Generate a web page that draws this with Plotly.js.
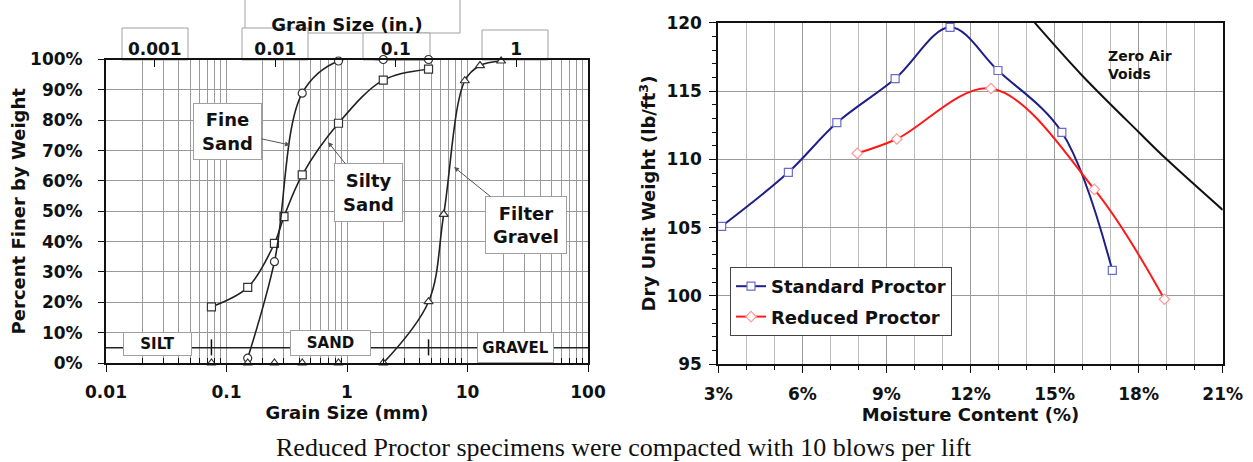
<!DOCTYPE html>
<html><head><meta charset="utf-8">
<script src="https://cdn.plot.ly/plotly-3.0.1.min.js"></script>
<style>html,body{margin:0;padding:0;background:#fff}#chart{width:1253px;height:462px}</style>
</head><body><div id="chart"></div>
<script>
// ---------- Left chart: grain size distribution ----------
const fineSandSizes  = [0.15, 0.25, 0.425, 0.85, 2.0, 4.75];
const fineSandPct    = [1.6, 33.4, 88.9, 99.5, 100, 100];
const siltySandSizes = [0.075, 0.15, 0.25, 0.3, 0.425, 0.85, 2.0, 4.75];
const siltySandPct   = [18.5, 24.9, 39.4, 48.2, 62.0, 79.0, 93.2, 96.8];
const gravelSizes    = [0.075, 0.15, 0.25, 0.425, 0.85, 2.0, 4.75, 6.35, 9.5, 12.7, 19.0];
const gravelPct      = [0, 0, 0, 0, 0, 0, 20.2, 49.0, 93.0, 98.0, 99.5];
const boundarySizes  = [0.075, 4.75];           // silt/sand and sand/gravel limits (mm)
const mmTickVals     = [0.01, 0.1, 1, 10, 100];
const mmTickText     = ['0.01', '0.1', '1', '10', '100'];
const inchTickVals   = [0.001, 0.01, 0.1, 1];
const inchTickText   = ['0.001', '0.01', '0.1', '1'];
const MM_PER_INCH = 25.4;

// ---------- Right chart: compaction curves ----------
const stdMoisture = [3.12, 5.5, 7.23, 9.31, 11.27, 12.98, 15.26, 17.06];
const stdDensity  = [105.1, 109.05, 112.68, 115.9, 119.66, 116.5, 111.98, 101.88];
const redMoisture = [7.96, 9.37, 12.73, 16.42, 18.92];
const redDensity  = [110.44, 111.49, 115.18, 107.8, 99.76];
const zavMoisture = [14.29, 16.0, 18.0, 19.0, 21.0];
const zavDensity  = [120.0, 116.1, 112.0, 110.0, 106.3];

const W = 1253, H = 462;
const px = v => v / W, py = v => 1 - v / H;

// minor log tick positions (2..9 in each decade)
const minorLog = [];
for (let e = -2; e < 2; e++) for (let m = 2; m <= 9; m++) minorLog.push(m * Math.pow(10, e));

const lineDark = '#222';
const mk = (sym) => ({symbol: sym, size: 8, color: 'white', line: {color: '#333', width: 1.2}});
const firstRise = gravelPct.findIndex(v => v > 0) - 1;

const traces = [
  {x: siltySandSizes, y: siltySandPct, mode: 'lines+markers', line: {color: lineDark, width: 1.6, shape: 'spline'},
   marker: mk('square'), cliponaxis: false, showlegend: false},
  {x: fineSandSizes, y: fineSandPct, mode: 'lines+markers', line: {color: lineDark, width: 1.6, shape: 'spline'},
   marker: mk('circle'), cliponaxis: false, showlegend: false},
  {x: gravelSizes.slice(firstRise), y: gravelPct.slice(firstRise), mode: 'lines+markers',
   line: {color: lineDark, width: 1.6, shape: 'spline'}, marker: mk('triangle-up'), cliponaxis: false, showlegend: false},
  {x: gravelSizes.slice(0, firstRise), y: gravelPct.slice(0, firstRise), mode: 'markers',
   marker: mk('triangle-up'), cliponaxis: false, showlegend: false},
  {x: [boundarySizes[0], boundarySizes[0], null, boundarySizes[1], boundarySizes[1]], y: [2.5, 7.8, null, 2.5, 7.8],
   mode: 'lines', line: {color: '#111', width: 1.5}, showlegend: false, hoverinfo: 'skip'},
  {x: inchTickVals, y: inchTickVals.map(() => null), xaxis: 'x3', yaxis: 'y', mode: 'markers', showlegend: false, hoverinfo: 'skip'},
  // right chart
  {x: stdMoisture, y: stdDensity, xaxis: 'x2', yaxis: 'y2', name: 'Standard Proctor', mode: 'lines+markers',
   line: {color: '#1f1f8a', width: 2, shape: 'spline'}, legendgroup: 'a',
   marker: {symbol: 'square', size: 8, color: 'white', line: {color: '#6a6acc', width: 1.2}}},
  {x: redMoisture, y: redDensity, xaxis: 'x2', yaxis: 'y2', name: 'Reduced Proctor', mode: 'lines+markers',
   line: {color: '#ff1a1a', width: 2, shape: 'spline'}, legendgroup: 'b',
   marker: {symbol: 'diamond', size: 8, color: 'white', line: {color: '#ff9a9a', width: 1.2}}},
  {x: zavMoisture, y: zavDensity, xaxis: 'x2', yaxis: 'y2', name: 'Zero Air Voids', mode: 'lines',
   line: {color: '#111', width: 2, shape: 'spline'}, showlegend: false}
];

const gridC = '#9a9a9a';
const tickFont = {family: 'DejaVu Sans', size: 17, weight: 'bold', color: '#111'};
const titleFont = {family: 'DejaVu Sans', size: 18, weight: 'bold', color: '#111'};

const box = (x0, y0, x1, y1) => ({type: 'rect', xref: 'paper', yref: 'paper', layer: 'below',
  x0: px(x0), x1: px(x1), y0: py(y1), y1: py(y0), line: {color: '#a0a0a0', width: 1}, fillcolor: 'white'});

const label = (text, cx, cy, w, h, size) => ({text, xref: 'paper', yref: 'paper', x: px(cx), y: py(cy),
  xanchor: 'center', yanchor: 'middle', showarrow: false, width: w, height: h, bgcolor: 'white',
  bordercolor: '#a0a0a0', borderwidth: 1, borderpad: 0, font: {family: 'DejaVu Sans', size: size, weight: 'bold', color: '#111'}});

const arrowLabel = (text, tipX, tipY, cx, cy, w, h) => ({text, xref: 'paper', yref: 'paper', x: px(tipX), y: py(tipY),
  ax: cx - tipX, ay: cy - tipY, showarrow: true, arrowhead: 2, arrowsize: 1, arrowwidth: 1, arrowcolor: '#555',
  width: w, height: h, bgcolor: 'white', bordercolor: '#a0a0a0', borderwidth: 1, borderpad: 0,
  font: {family: 'DejaVu Sans', size: 18, weight: 'bold', color: '#111'}});

const layout = {
  width: W, height: H, margin: {l: 0, r: 0, t: 0, b: 0},
  paper_bgcolor: 'white', plot_bgcolor: 'white',
  font: {family: 'DejaVu Sans', size: 17, weight: 'bold', color: '#111'},
  xaxis: {type: 'log', domain: [px(106), px(588)], anchor: 'y', range: [-2, 2],
    tickmode: 'array', tickvals: mmTickVals, ticktext: mmTickText, tickfont: tickFont,
    ticks: 'outside', ticklen: 7, tickcolor: '#111', ticklabelstandoff: 6,
    showgrid: true, gridcolor: gridC, gridwidth: 1,
    minor: {tickmode: 'array', tickvals: minorLog, ticks: 'inside', ticklen: 5, tickcolor: '#111', showgrid: true, gridcolor: gridC, gridwidth: 1},
    showline: true, linecolor: '#111', linewidth: 2, mirror: true, zeroline: false,
    title: {text: 'Grain Size (mm)', font: titleFont, standoff: 4}},
  xaxis3: {type: 'log', overlaying: 'x', side: 'top', anchor: 'y',
    range: [Math.log10(0.01 / MM_PER_INCH), Math.log10(100 / MM_PER_INCH)],
    tickmode: 'array', tickvals: inchTickVals, ticktext: inchTickText, tickfont: tickFont,
    ticks: 'inside', ticklen: 7, tickcolor: '#111', showgrid: false, showline: false, zeroline: false,
    title: {text: 'Grain Size (in.)', font: titleFont, standoff: 2}},
  yaxis: {domain: [py(363), py(59.5)], anchor: 'x', range: [0, 100], tickmode: 'linear', tick0: 0, dtick: 10,
    ticksuffix: '%', tickfont: tickFont, ticks: 'outside', ticklen: 6, tickcolor: '#111', ticklabelstandoff: 12,
    showgrid: true, gridcolor: gridC, showline: true, linecolor: '#111', linewidth: 2, mirror: true, zeroline: false,
    title: {text: 'Percent Finer by Weight', font: titleFont, standoff: 0}},
  xaxis2: {domain: [px(718.3), px(1222.7)], anchor: 'y2', range: [3, 21], tickmode: 'linear', tick0: 3, dtick: 3,
    ticksuffix: '%', tickfont: tickFont, ticks: 'outside', ticklen: 7, tickcolor: '#111', ticklabelstandoff: 6,
    showgrid: true, gridcolor: gridC,
    minor: {dtick: 1, tick0: 3, ticks: 'outside', ticklen: 4, tickcolor: '#111', showgrid: true, gridcolor: '#bdbdbd'},
    showline: true, linecolor: '#111', linewidth: 2, mirror: true, zeroline: false,
    title: {text: 'Moisture Content (%)', font: titleFont, standoff: 4}},
  yaxis2: {domain: [py(364.3), py(22.7)], anchor: 'x2', range: [95, 120], tickmode: 'linear', tick0: 95, dtick: 5,
    tickfont: tickFont, ticks: 'outside', ticklen: 7, tickcolor: '#111', ticklabelstandoff: 4,
    showgrid: true, gridcolor: gridC,
    minor: {dtick: 1, tick0: 95, ticks: 'outside', ticklen: 4, tickcolor: '#111', showgrid: false},
    showline: true, linecolor: '#111', linewidth: 2, mirror: true, zeroline: false,
    title: {text: 'Dry Unit Weight (lb/ft<sup>3</sup>)', font: titleFont, standoff: 6}},
  legend: {x: px(730), y: py(267), xanchor: 'left', yanchor: 'top', bgcolor: 'white', bordercolor: '#444', borderwidth: 1,
    font: {family: 'DejaVu Sans', size: 18, weight: 'bold', color: '#111'}, traceorder: 'grouped', tracegroupgap: 4, itemwidth: 30},
  shapes: [
    box(245, -10, 460, 33),
    box(122, 28, 188, 60),
    box(242, 28, 308, 60),
    box(363, 33, 430, 60),
    box(482, 30, 548, 60),
    {type: 'line', xref: 'x domain', yref: 'y', x0: 0, x1: 1, y0: 5, y1: 5, line: {color: '#222', width: 1.5}}
  ],
  annotations: [
    arrowLabel('Fine<br>Sand', 290, 145, 227.5, 131.5, 67, 55),
    arrowLabel('Silty<br>Sand', 328, 142, 368.5, 192.5, 67, 57),
    arrowLabel('Filter<br>Gravel', 454, 167, 525.7, 225, 80, 56),
    label('SILT', 157.2, 343.8, 67, 22, 15),
    label('SAND', 330.5, 343.3, 79, 24, 15),
    label('GRAVEL', 515.3, 347, 75, 29, 15),
    {text: 'Zero Air<br>Voids', xref: 'paper', yref: 'paper', x: px(1106), y: py(65), xanchor: 'left', yanchor: 'middle',
     align: 'left', showarrow: false, font: {family: 'DejaVu Sans', size: 14, weight: 'bold', color: '#111'}},
    {text: 'Reduced Proctor specimens were compacted with 10 blows per lift', xref: 'paper', yref: 'paper',
     x: px(624), y: py(447), xanchor: 'center', yanchor: 'middle', showarrow: false,
     font: {family: 'Liberation Serif', size: 26, weight: 'normal', color: '#111'}}
  ]
};

Plotly.newPlot('chart', traces, layout, {displayModeBar: false, staticPlot: true});
</script></body></html>
